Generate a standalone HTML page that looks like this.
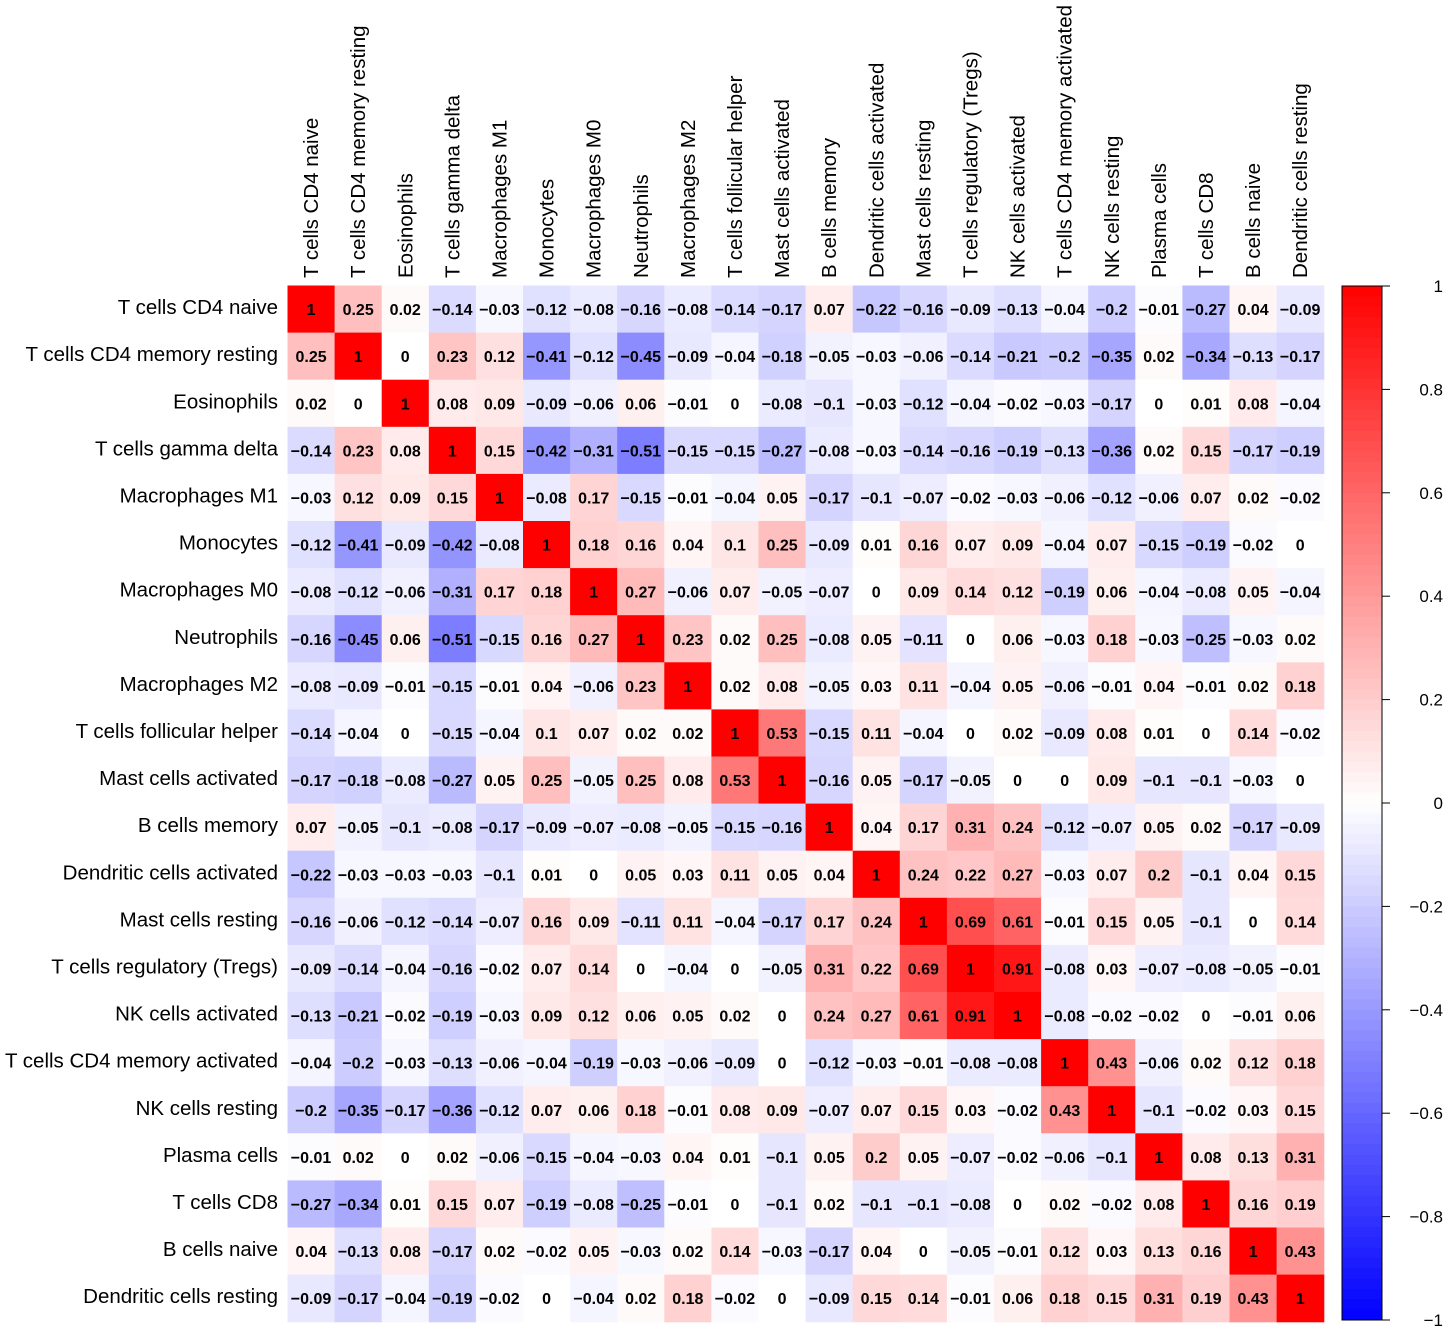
<!DOCTYPE html>
<html><head><meta charset="utf-8"><style>
body{margin:0;background:#fff;}
svg{display:block;font-family:"Liberation Sans",sans-serif;}
</style></head><body>
<svg id="chart" width="1450" height="1330" xmlns="http://www.w3.org/2000/svg"></svg>
<script>
const labels=["T cells CD4 naive","T cells CD4 memory resting","Eosinophils","T cells gamma delta","Macrophages M1","Monocytes","Macrophages M0","Neutrophils","Macrophages M2","T cells follicular helper","Mast cells activated","B cells memory","Dendritic cells activated","Mast cells resting","T cells regulatory (Tregs)","NK cells activated","T cells CD4 memory activated","NK cells resting","Plasma cells","T cells CD8","B cells naive","Dendritic cells resting"];
const matrix=[
[1,0.25,0.02,-0.14,-0.03,-0.12,-0.08,-0.16,-0.08,-0.14,-0.17,0.07,-0.22,-0.16,-0.09,-0.13,-0.04,-0.2,-0.01,-0.27,0.04,-0.09],
[0.25,1,0,0.23,0.12,-0.41,-0.12,-0.45,-0.09,-0.04,-0.18,-0.05,-0.03,-0.06,-0.14,-0.21,-0.2,-0.35,0.02,-0.34,-0.13,-0.17],
[0.02,0,1,0.08,0.09,-0.09,-0.06,0.06,-0.01,0,-0.08,-0.1,-0.03,-0.12,-0.04,-0.02,-0.03,-0.17,0,0.01,0.08,-0.04],
[-0.14,0.23,0.08,1,0.15,-0.42,-0.31,-0.51,-0.15,-0.15,-0.27,-0.08,-0.03,-0.14,-0.16,-0.19,-0.13,-0.36,0.02,0.15,-0.17,-0.19],
[-0.03,0.12,0.09,0.15,1,-0.08,0.17,-0.15,-0.01,-0.04,0.05,-0.17,-0.1,-0.07,-0.02,-0.03,-0.06,-0.12,-0.06,0.07,0.02,-0.02],
[-0.12,-0.41,-0.09,-0.42,-0.08,1,0.18,0.16,0.04,0.1,0.25,-0.09,0.01,0.16,0.07,0.09,-0.04,0.07,-0.15,-0.19,-0.02,0],
[-0.08,-0.12,-0.06,-0.31,0.17,0.18,1,0.27,-0.06,0.07,-0.05,-0.07,0,0.09,0.14,0.12,-0.19,0.06,-0.04,-0.08,0.05,-0.04],
[-0.16,-0.45,0.06,-0.51,-0.15,0.16,0.27,1,0.23,0.02,0.25,-0.08,0.05,-0.11,0,0.06,-0.03,0.18,-0.03,-0.25,-0.03,0.02],
[-0.08,-0.09,-0.01,-0.15,-0.01,0.04,-0.06,0.23,1,0.02,0.08,-0.05,0.03,0.11,-0.04,0.05,-0.06,-0.01,0.04,-0.01,0.02,0.18],
[-0.14,-0.04,0,-0.15,-0.04,0.1,0.07,0.02,0.02,1,0.53,-0.15,0.11,-0.04,0,0.02,-0.09,0.08,0.01,0,0.14,-0.02],
[-0.17,-0.18,-0.08,-0.27,0.05,0.25,-0.05,0.25,0.08,0.53,1,-0.16,0.05,-0.17,-0.05,0,0,0.09,-0.1,-0.1,-0.03,0],
[0.07,-0.05,-0.1,-0.08,-0.17,-0.09,-0.07,-0.08,-0.05,-0.15,-0.16,1,0.04,0.17,0.31,0.24,-0.12,-0.07,0.05,0.02,-0.17,-0.09],
[-0.22,-0.03,-0.03,-0.03,-0.1,0.01,0,0.05,0.03,0.11,0.05,0.04,1,0.24,0.22,0.27,-0.03,0.07,0.2,-0.1,0.04,0.15],
[-0.16,-0.06,-0.12,-0.14,-0.07,0.16,0.09,-0.11,0.11,-0.04,-0.17,0.17,0.24,1,0.69,0.61,-0.01,0.15,0.05,-0.1,0,0.14],
[-0.09,-0.14,-0.04,-0.16,-0.02,0.07,0.14,0,-0.04,0,-0.05,0.31,0.22,0.69,1,0.91,-0.08,0.03,-0.07,-0.08,-0.05,-0.01],
[-0.13,-0.21,-0.02,-0.19,-0.03,0.09,0.12,0.06,0.05,0.02,0,0.24,0.27,0.61,0.91,1,-0.08,-0.02,-0.02,0,-0.01,0.06],
[-0.04,-0.2,-0.03,-0.13,-0.06,-0.04,-0.19,-0.03,-0.06,-0.09,0,-0.12,-0.03,-0.01,-0.08,-0.08,1,0.43,-0.06,0.02,0.12,0.18],
[-0.2,-0.35,-0.17,-0.36,-0.12,0.07,0.06,0.18,-0.01,0.08,0.09,-0.07,0.07,0.15,0.03,-0.02,0.43,1,-0.1,-0.02,0.03,0.15],
[-0.01,0.02,0,0.02,-0.06,-0.15,-0.04,-0.03,0.04,0.01,-0.1,0.05,0.2,0.05,-0.07,-0.02,-0.06,-0.1,1,0.08,0.13,0.31],
[-0.27,-0.34,0.01,0.15,0.07,-0.19,-0.08,-0.25,-0.01,0,-0.1,0.02,-0.1,-0.1,-0.08,0,0.02,-0.02,0.08,1,0.16,0.19],
[0.04,-0.13,0.08,-0.17,0.02,-0.02,0.05,-0.03,0.02,0.14,-0.03,-0.17,0.04,0,-0.05,-0.01,0.12,0.03,0.13,0.16,1,0.43],
[-0.09,-0.17,-0.04,-0.19,-0.02,0,-0.04,0.02,0.18,-0.02,0,-0.09,0.15,0.14,-0.01,0.06,0.18,0.15,0.31,0.19,0.43,1]];
const cbTicks=[1,0.8,0.6,0.4,0.2,0,-0.2,-0.4,-0.6,-0.8,-1];

const NS="http://www.w3.org/2000/svg";
const svg=document.getElementById('chart');
const X0=287.5,Y0=285.5,CELL=47.1;
const xPos=i=>X0+i*CELL, yPos=i=>Y0+i*CELL;
const CB_TOP=286,CB_BOT=1320,CB_X=1342,CB_W=40;
const cbY=v=>CB_TOP+(1-v)/2*(CB_BOT-CB_TOP);
function color(v){
  let r,g,b;
  if(v>=0){r=255;g=Math.round(255*(1-v));b=g;}
  else{b=255;r=Math.round(255*(1+v));g=r;}
  return `rgb(${r},${g},${b})`;
}
function el(tag,attrs,text){const e=document.createElementNS(NS,tag);for(const k in attrs)e.setAttribute(k,attrs[k]);if(text!==undefined)e.textContent=text;svg.appendChild(e);return e;}
function fmt(v){return (v<0?"\u2212":"")+String(Math.abs(v));}

matrix.forEach((row,i)=>row.forEach((v,j)=>{
  const r=el('rect',{x:xPos(j),y:yPos(i),width:CELL+0.6,height:CELL+0.6,fill:color(v)});
  
  
}));
matrix.forEach((row,i)=>row.forEach((v,j)=>{
  const t=el('text',{x:xPos(j)+CELL/2,y:yPos(i)+CELL/2+6,'text-anchor':'middle','font-size':16,'font-weight':'bold',fill:'#000'},fmt(v));
  
  
}));
labels.forEach((l,i)=>{
  const t=el('text',{x:278,y:yPos(i)+CELL/2+5,'text-anchor':'end','font-size':20.5,fill:'#000'},l);
  
  
  const cx=xPos(i)+CELL/2+7;
  const c=el('text',{x:cx,y:278,transform:`rotate(-90 ${cx} 278)`,'font-size':20.5,fill:'#000'},l);
  
  
});
const N=100;
for(let k=0;k<N;k++){
  const v1=1-2*k/N, v2=1-2*(k+1)/N;
  const r=el('rect',{x:CB_X,y:cbY(v1),width:CB_W,height:cbY(v2)-cbY(v1)+0.5,fill:color((v1+v2)/2)});
  
  
}
const fr=el('rect',{x:CB_X,y:CB_TOP,width:CB_W,height:CB_BOT-CB_TOP,fill:'none',stroke:'#000','stroke-width':1});


cbTicks.forEach(v=>{
  const y=cbY(v);
  const tk=el('line',{x1:CB_X+CB_W,x2:CB_X+CB_W+8,y1:y,y2:y,stroke:'#000'});
  
  
  const t=el('text',{x:1443,y:y+6,'text-anchor':'end','font-size':17,fill:'#000'},fmt(v));
  
  
});
</script>
</body></html>
